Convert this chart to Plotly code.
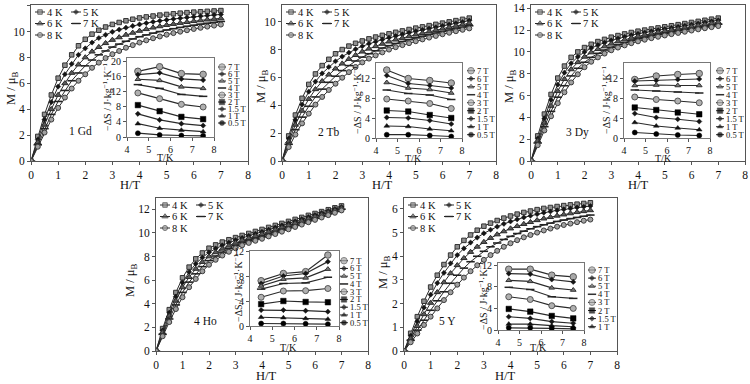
import plotly.graph_objects as go

W, HT = 750, 384

# ---------------- data ----------------
field_H = [0, 0.25, 0.5, 0.75, 1, 1.25, 1.5, 1.75, 2, 2.25, 2.5, 2.75, 3, 3.25, 3.5,
           3.75, 4, 4.25, 4.5, 4.75, 5, 5.25, 5.5, 5.75, 6, 6.25, 6.5, 6.75, 7]
temps = ["4 K", "5 K", "6 K", "7 K", "8 K"]
panel_labels = ["1 Gd", "2 Tb", "3 Dy", "4 Ho", "5 Y"]

# M(H) curves, one list per temperature (4 K ... 8 K)
m_gd = [
    [0, 1.9, 3.6, 5.1, 6.4, 7.4, 8.2, 8.9, 9.4, 9.8, 10.1, 10.35, 10.55, 10.7, 10.83, 10.95, 11.05, 11.13, 11.2, 11.27, 11.32, 11.37, 11.42, 11.46, 11.5, 11.53, 11.56, 11.59, 11.62],
    [0, 1.65, 3.2, 4.55, 5.75, 6.7, 7.5, 8.2, 8.7, 9.15, 9.5, 9.75, 9.98, 10.15, 10.3, 10.43, 10.55, 10.65, 10.75, 10.83, 10.9, 10.97, 11.03, 11.09, 11.14, 11.19, 11.24, 11.28, 11.32],
    [0, 1.45, 2.8, 4.0, 5.1, 6.0, 6.8, 7.45, 8.0, 8.45, 8.8, 9.1, 9.35, 9.55, 9.75, 9.9, 10.05, 10.18, 10.3, 10.4, 10.5, 10.58, 10.66, 10.73, 10.8, 10.86, 10.92, 10.97, 11.02],
    [0, 1.25, 2.5, 3.6, 4.6, 5.45, 6.2, 6.8, 7.35, 7.8, 8.2, 8.5, 8.8, 9.03, 9.25, 9.43, 9.6, 9.74, 9.88, 10.0, 10.12, 10.22, 10.32, 10.41, 10.49, 10.57, 10.64, 10.71, 10.78],
    [0, 1.1, 2.2, 3.2, 4.1, 4.9, 5.6, 6.2, 6.7, 7.2, 7.6, 7.95, 8.25, 8.5, 8.75, 8.95, 9.15, 9.32, 9.48, 9.62, 9.76, 9.88, 9.99, 10.1, 10.2, 10.29, 10.38, 10.46, 10.54],
]
m_tb = [
    [0, 1.8, 3.3, 4.5, 5.5, 6.25, 6.85, 7.3, 7.7, 8.0, 8.25, 8.45, 8.62, 8.77, 8.9, 9.02, 9.13, 9.24, 9.34, 9.44, 9.54, 9.63, 9.72, 9.81, 9.9, 9.99, 10.08, 10.17, 10.26],
    [0, 1.6, 2.95, 4.05, 4.98, 5.7, 6.29, 6.75, 7.16, 7.5, 7.78, 8.03, 8.24, 8.42, 8.57, 8.72, 8.85, 8.97, 9.09, 9.2, 9.31, 9.41, 9.51, 9.6, 9.7, 9.8, 9.89, 9.98, 10.08],
    [0, 1.4, 2.6, 3.6, 4.45, 5.15, 5.73, 6.2, 6.63, 6.99, 7.32, 7.6, 7.85, 8.06, 8.24, 8.41, 8.57, 8.71, 8.83, 8.95, 9.07, 9.18, 9.29, 9.4, 9.5, 9.6, 9.7, 9.8, 9.89],
    [0, 1.2, 2.25, 3.15, 3.93, 4.6, 5.16, 5.65, 6.09, 6.49, 6.85, 7.18, 7.46, 7.7, 7.91, 8.11, 8.28, 8.44, 8.58, 8.71, 8.84, 8.96, 9.08, 9.19, 9.3, 9.4, 9.51, 9.61, 9.71],
    [0, 1.0, 1.9, 2.7, 3.4, 4.05, 4.6, 5.1, 5.55, 5.98, 6.38, 6.75, 7.08, 7.35, 7.58, 7.8, 8.0, 8.17, 8.32, 8.46, 8.6, 8.73, 8.86, 8.98, 9.1, 9.21, 9.32, 9.42, 9.52],
]
m_dy = [
    [0, 2.3, 4.3, 6.1, 7.6, 8.7, 9.5, 10.0, 10.4, 10.7, 10.95, 11.15, 11.35, 11.5, 11.65, 11.78, 11.9, 12.0, 12.1, 12.2, 12.3, 12.4, 12.5, 12.6, 12.7, 12.8, 12.9, 13.0, 13.1],
    [0, 2.05, 3.9, 5.6, 7.0, 8.1, 8.95, 9.55, 10.0, 10.35, 10.62, 10.85, 11.05, 11.23, 11.39, 11.53, 11.66, 11.78, 11.89, 12.0, 12.1, 12.2, 12.3, 12.4, 12.5, 12.6, 12.7, 12.8, 12.9],
    [0, 1.85, 3.5, 5.05, 6.4, 7.5, 8.4, 9.05, 9.55, 9.95, 10.25, 10.5, 10.75, 10.95, 11.12, 11.28, 11.43, 11.56, 11.68, 11.8, 11.91, 12.02, 12.12, 12.22, 12.32, 12.42, 12.52, 12.62, 12.72],
    [0, 1.65, 3.15, 4.55, 5.85, 6.9, 7.8, 8.5, 9.05, 9.5, 9.87, 10.17, 10.43, 10.65, 10.85, 11.03, 11.2, 11.34, 11.47, 11.6, 11.71, 11.82, 11.93, 12.04, 12.14, 12.24, 12.34, 12.44, 12.54],
    [0, 1.45, 2.8, 4.1, 5.3, 6.3, 7.2, 7.95, 8.6, 9.1, 9.5, 9.85, 10.15, 10.4, 10.6, 10.8, 10.97, 11.12, 11.26, 11.39, 11.51, 11.63, 11.74, 11.85, 11.96, 12.07, 12.17, 12.27, 12.37],
]
m_ho = [
    [0, 1.9, 3.5, 4.95, 6.2, 7.1, 7.8, 8.3, 8.7, 8.98, 9.22, 9.42, 9.6, 9.78, 9.95, 10.12, 10.29, 10.46, 10.63, 10.8, 10.97, 11.14, 11.31, 11.48, 11.64, 11.8, 11.96, 12.12, 12.28],
    [0, 1.74, 3.24, 4.6, 5.79, 6.68, 7.38, 7.91, 8.35, 8.67, 8.94, 9.17, 9.38, 9.57, 9.75, 9.92, 10.09, 10.27, 10.45, 10.63, 10.8, 10.98, 11.16, 11.34, 11.51, 11.68, 11.85, 12.02, 12.19],
    [0, 1.58, 2.98, 4.25, 5.38, 6.25, 6.95, 7.53, 8.0, 8.35, 8.65, 8.91, 9.15, 9.37, 9.55, 9.73, 9.9, 10.08, 10.27, 10.45, 10.64, 10.82, 11.01, 11.19, 11.37, 11.55, 11.73, 11.91, 12.09],
    [0, 1.41, 2.71, 3.9, 4.96, 5.83, 6.53, 7.14, 7.65, 8.04, 8.37, 8.66, 8.93, 9.16, 9.35, 9.53, 9.7, 9.89, 10.08, 10.28, 10.47, 10.66, 10.85, 11.05, 11.24, 11.43, 11.62, 11.81, 12.0],
    [0, 1.25, 2.45, 3.55, 4.55, 5.4, 6.1, 6.75, 7.3, 7.72, 8.08, 8.4, 8.7, 8.95, 9.15, 9.33, 9.5, 9.7, 9.9, 10.1, 10.3, 10.5, 10.7, 10.9, 11.1, 11.3, 11.5, 11.7, 11.9],
]
m_y = [
    [0, 0.75, 1.45, 2.1, 2.7, 3.2, 3.65, 4.05, 4.4, 4.67, 4.9, 5.1, 5.27, 5.4, 5.51, 5.61, 5.7, 5.78, 5.85, 5.91, 5.97, 6.02, 6.06, 6.1, 6.14, 6.17, 6.2, 6.23, 6.26],
    [0, 0.64, 1.25, 1.83, 2.38, 2.87, 3.3, 3.7, 4.05, 4.33, 4.58, 4.79, 4.97, 5.12, 5.25, 5.37, 5.47, 5.56, 5.64, 5.71, 5.78, 5.84, 5.89, 5.94, 5.98, 6.02, 6.06, 6.09, 6.12],
    [0, 0.53, 1.05, 1.55, 2.03, 2.48, 2.9, 3.28, 3.62, 3.92, 4.18, 4.4, 4.6, 4.77, 4.92, 5.05, 5.17, 5.27, 5.36, 5.44, 5.52, 5.59, 5.65, 5.71, 5.76, 5.81, 5.86, 5.9, 5.94],
    [0, 0.45, 0.88, 1.3, 1.72, 2.12, 2.5, 2.86, 3.2, 3.5, 3.77, 4.0, 4.21, 4.4, 4.56, 4.71, 4.84, 4.96, 5.06, 5.16, 5.25, 5.33, 5.4, 5.47, 5.53, 5.59, 5.64, 5.69, 5.74],
    [0, 0.37, 0.74, 1.1, 1.45, 1.8, 2.15, 2.48, 2.8, 3.1, 3.37, 3.62, 3.85, 4.05, 4.23, 4.4, 4.55, 4.68, 4.8, 4.9, 5.0, 5.09, 5.17, 5.25, 5.32, 5.38, 5.44, 5.5, 5.55],
]

# insets: -dS vs T for each field
inset_T = [4.5, 5.5, 6.5, 7.5]
field_labels = ["7 T", "6 T", "5 T", "4 T", "3 T", "2 T", "1.5 T", "1 T", "0.5 T"]
ds_gd = [[17.3, 18.5, 16.7, 16.5], [16.4, 16.9, 15.3, 15.0], [15.2, 14.9, 13.2, 12.8],
         [13.8, 12.8, 11.2, 10.7], [11.6, 10.1, 8.6, 7.9], [8.4, 6.8, 5.3, 4.7],
         [6.1, 4.5, 3.5, 3.0], [3.5, 2.3, 1.8, 1.4], [1.0, 0.55, 0.4, 0.3]]
ds_tb = [[13.6, 11.9, 11.5, 11.0], [12.5, 10.9, 10.5, 10.0], [11.1, 10.0, 9.7, 9.0],
         [9.6, 8.9, 8.6, 7.7], [7.8, 7.4, 6.9, 5.9], [5.5, 5.3, 4.6, 4.0],
         [4.1, 4.0, 3.5, 2.8], [2.4, 2.3, 1.8, 1.45], [0.66, 0.66, 0.5, 0.3]]
ds_dy = [[11.7, 12.4, 12.7, 12.9], [11.4, 11.5, 11.7, 11.8], [10.5, 10.6, 10.5, 10.5],
         [9.6, 9.4, 9.2, 9.0], [8.2, 7.7, 7.4, 7.05], [6.1, 5.6, 5.1, 4.75],
         [4.9, 4.1, 3.75, 3.3], [3.1, 2.4, 2.0, 1.65], [1.1, 0.8, 0.6, 0.5]]
ds_ho = [[7.25, 8.4, 8.7, 11.35], [6.8, 8.0, 8.4, 10.3], [6.4, 7.5, 7.7, 9.1],
         [5.9, 6.8, 6.9, 7.8], [4.6, 5.6, 5.65, 6.0], [3.5, 4.0, 3.85, 3.8],
         [2.55, 2.55, 2.45, 2.3], [1.4, 1.33, 1.2, 1.1], [0.4, 0.4, 0.35, 0.3]]
ds_y = [[11.25, 11.25, 10.15, 9.85], [10.45, 10.35, 9.35, 8.9], [9.2, 9.0, 7.8, 7.4],
        [7.9, 7.5, 6.15, 5.85], [6.15, 5.65, 4.5, 4.0], [3.9, 3.4, 2.6, 2.15],
        [2.45, 2.15, 1.55, 1.25], [1.1, 1.1, 0.8, 0.6], [0.4, 0.4, 0.3, 0.2]]

m_all = [m_gd, m_tb, m_dy, m_ho, m_y]
ds_all = [ds_gd, ds_tb, ds_dy, ds_ho, ds_y]
n_leg_entries = [9, 9, 9, 9, 8]

# ---------------- layout geometry (pixels) ----------------
main_box = [(31, 5, 248, 161), (282, 5, 496, 161), (531, 5, 745, 161),
            (156, 198, 368, 351), (404, 198, 617, 351)]
main_ytop = [12.05, 11.2, 14.3, 12.95, 6.46]
main_dtick = [2, 2, 2, 2, 1]
inset_box = [(127, 58, 214, 137), (376, 63, 462, 138), (624, 63, 710, 138),
             (250, 251, 339, 326), (498, 263, 584, 330)]
inset_ytop = [20.8, 15, 15, 12, 12.4]
inset_leg = [(218, 67, 7.0), (467, 70.7, 8.0), (716, 70.7, 8.0),
             (340, 260.7, 7.75), (588, 270, 8.1)]
label_pos = [(80, 131), (328, 132), (577, 132), (205, 321), (447, 321)]
xtitle_pos = [(130, 185), (382, 185), (638, 185), (266, 375.5), (505, 375.5)]
ytitle_pos = [(12, 88), (262, 86), (510, 86), (131, 280), (384, 272)]
ixtitle_pos = [(165, 157), (413, 158.5), (663, 158.5), (288, 347), (538, 347)]
iytitle_pos = [(107, 97), (357, 100), (606, 100), (238, 288), (483, 296)]

FONT = "Liberation Serif, Times New Roman, serif"
LINE = "#2a2a2a"

main_styles = [
    dict(symbol="square", size=4.5, color="#8f8f8f", line=dict(color="#333333", width=1)),
    dict(symbol="diamond", size=4, color="#151515", line=dict(color="#151515", width=0.5)),
    dict(symbol="triangle-up", size=5.5, color="#5a5a5a", line=dict(color="#2a2a2a", width=1)),
    dict(symbol="line-ew-open", size=6, color="#222222", line=dict(color="#222222", width=1.6)),
    dict(symbol="circle", size=5, color="#a0a0a0", line=dict(color="#3c3c3c", width=1)),
]
inset_styles = [
    dict(symbol="circle", size=6.5, color="#a8a8a8", line=dict(color="#555555", width=1)),
    dict(symbol="diamond", size=4, color="#151515", line=dict(color="#151515", width=0.5)),
    dict(symbol="triangle-up", size=5, color="#777777", line=dict(color="#333333", width=1)),
    dict(symbol="line-ew-open", size=6, color="#222222", line=dict(color="#222222", width=1.5)),
    dict(symbol="circle", size=6, color="#b0b0b0", line=dict(color="#555555", width=1)),
    dict(symbol="square", size=5.5, color="#000000", line=dict(color="#000000", width=0.5)),
    dict(symbol="diamond", size=4, color="#151515", line=dict(color="#151515", width=0.5)),
    dict(symbol="triangle-up", size=5, color="#111111", line=dict(color="#111111", width=0.5)),
    dict(symbol="circle", size=5, color="#000000", line=dict(color="#000000", width=0.5)),
]


def dx(x0, x1):
    return [x0 / W, x1 / W]


def dy(y0, y1):
    return [1 - y1 / HT, 1 - y0 / HT]


fig = go.Figure()
lay = {}
OV = 11  # overlay axis in pixel units, used for legends and labels


def px_text(x, y, text, size, angle=0, anchor="center"):
    fig.add_annotation(x=x, y=y, xref=f"x{OV}", yref=f"y{OV}", text=text,
                       showarrow=False, xanchor=anchor, yanchor="middle",
                       textangle=angle, font=dict(size=size), borderpad=0)


for p in range(5):
    i, j = p + 1, p + 6
    l, t, r, b = main_box[p]
    for k, lbl in enumerate(temps):
        fig.add_trace(go.Scatter(x=field_H, y=m_all[p][k], mode="lines+markers",
                                 xaxis=f"x{i}", yaxis=f"y{i}", showlegend=False,
                                 line=dict(color=LINE, width=1), marker=main_styles[k],
                                 name=lbl))
    lay[f"xaxis{i}"] = dict(domain=dx(l, r), range=[0, 8], dtick=1, anchor=f"y{i}",
                            tickfont=dict(size=11.5))
    lay[f"yaxis{i}"] = dict(domain=dy(t, b), range=[0, main_ytop[p]], dtick=main_dtick[p],
                            anchor=f"x{i}", tickfont=dict(size=11.5))
    px_text(*xtitle_pos[p], "H/T", 12.5)
    px_text(*ytitle_pos[p], "M / μ<sub>B</sub>", 12.5, angle=-90)

    il, it, ir, ib = inset_box[p]
    for k in range(len(field_labels)):
        fig.add_trace(go.Scatter(x=inset_T, y=ds_all[p][k], mode="lines+markers",
                                 xaxis=f"x{j}", yaxis=f"y{j}", showlegend=False,
                                 line=dict(color=LINE, width=1.2), marker=inset_styles[k],
                                 name=field_labels[k]))
    lay[f"xaxis{j}"] = dict(domain=dx(il, ir), range=[4, 8], dtick=1, anchor=f"y{j}",
                            tickfont=dict(size=10), linecolor="#777777")
    lay[f"yaxis{j}"] = dict(domain=dy(it, ib), range=[0, inset_ytop[p]], dtick=4,
                            anchor=f"x{j}", tickfont=dict(size=10), linecolor="#777777")
    px_text(*ixtitle_pos[p], "T/K", 10)
    px_text(*iytitle_pos[p], "−ΔS / J·kg<sup>−1</sup>·K<sup>−1</sup>", 10, angle=-90)

    # main legend: two columns
    for k, lbl in enumerate(temps):
        col, row = k % 2, k // 2
        x0 = l + 4 + col * 36
        y0 = t + 7 + row * 11.5
        st = dict(main_styles[k])
        st["size"] = [0, main_styles[k]["size"], 0]
        fig.add_trace(go.Scatter(x=[x0, x0 + 5, x0 + 10], y=[y0] * 3, mode="lines+markers",
                                 xaxis=f"x{OV}", yaxis=f"y{OV}", showlegend=False,
                                 line=dict(color=LINE, width=1), marker=st, hoverinfo="skip"))
        px_text(x0 + 11, y0, lbl, 10.5, anchor="left")

    # inset legend: one column
    gx, gy, sp = inset_leg[p]
    for k in range(n_leg_entries[p]):
        y0 = gy + k * sp
        st = dict(inset_styles[k])
        st["size"] = [0, inset_styles[k]["size"], 0]
        fig.add_trace(go.Scatter(x=[gx, gx + 4, gx + 8], y=[y0] * 3, mode="lines+markers",
                                 xaxis=f"x{OV}", yaxis=f"y{OV}", showlegend=False,
                                 line=dict(color=LINE, width=1), marker=st, hoverinfo="skip"))
        px_text(gx + 8.5, y0, field_labels[k], 8.5, anchor="left")

    px_text(*label_pos[p], panel_labels[p], 11.5)

axis_common = dict(showline=True, mirror=True, linewidth=1, automargin=False,
                   ticks="outside", ticklen=3, tickcolor="#555555", showgrid=False,
                   zeroline=False, fixedrange=True)
for key in lay:
    lay[key].setdefault("linecolor", "#555555")
    lay[key].update(axis_common)

lay[f"xaxis{OV}"] = dict(domain=[0, 1], range=[0, W], visible=False, anchor=f"y{OV}",
                         fixedrange=True, automargin=False)
lay[f"yaxis{OV}"] = dict(domain=[0, 1], range=[HT, 0], visible=False, anchor=f"x{OV}",
                         fixedrange=True, automargin=False)

fig.update_layout(**lay)
fig.update_layout(width=W, height=HT, margin=dict(l=0, r=0, t=0, b=0, autoexpand=False),
                  paper_bgcolor="white", plot_bgcolor="rgba(0,0,0,0)",
                  font=dict(family=FONT, color="#111111"), showlegend=False)

# page body margin would shift the 750x384 figure inside the window
fig.write_html("out.html", config={"displayModeBar": False},
               post_script="document.body.style.margin = '0px';")
